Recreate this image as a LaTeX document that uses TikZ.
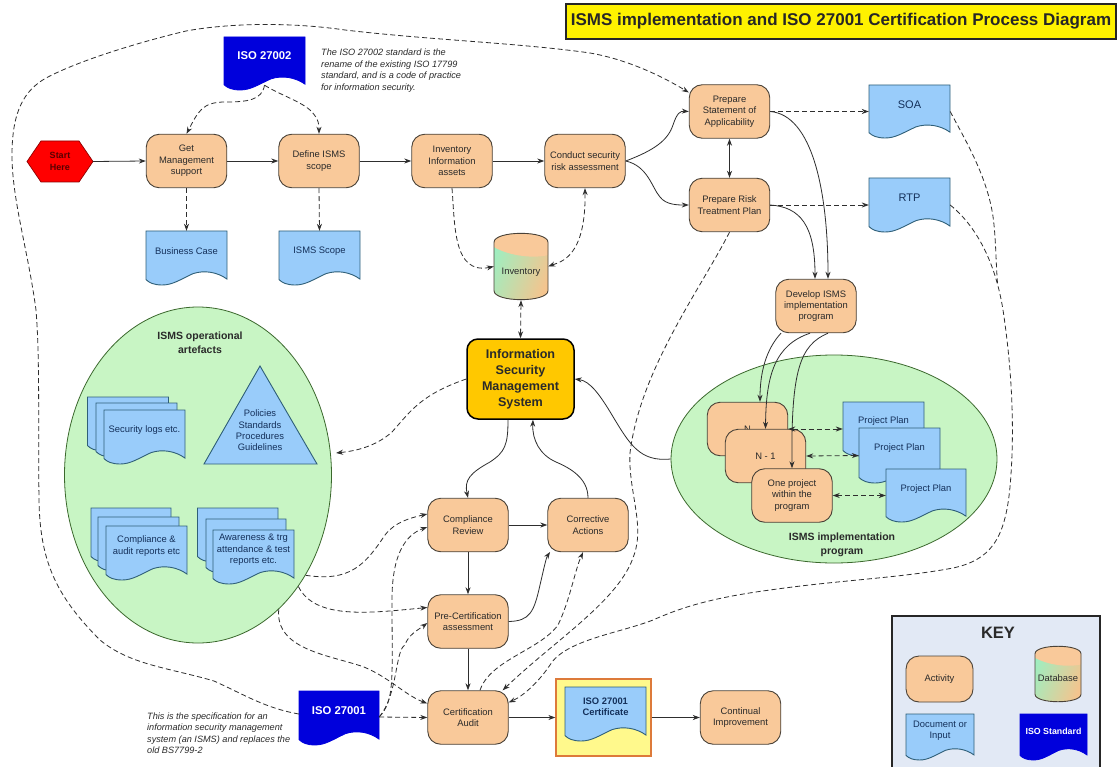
\documentclass[tikz,border=0pt]{standalone}
\usepackage{fontspec}
\setmainfont{Liberation Sans}
\usetikzlibrary{arrows.meta,shapes.geometric,calc}
\definecolor{actfill}{HTML}{F9C99A}
\definecolor{edgeb}{HTML}{4A4238}
\definecolor{docfill}{HTML}{99CCFA}
\definecolor{docedge}{HTML}{2F5F78}
\definecolor{stdblue}{HTML}{0000DC}
\definecolor{ellfill}{HTML}{C8F5C4}
\definecolor{txt}{HTML}{2A2A2A}
\definecolor{doctxt}{HTML}{14305A}
\definecolor{conn}{HTML}{2E2E2E}
\definecolor{keyfill}{HTML}{E2E9F5}
\definecolor{cylgreen}{HTML}{9FEEC0}
\definecolor{cylorange}{HTML}{F4C48E}
\definecolor{ismsfill}{HTML}{FFC800}
\definecolor{framecol}{HTML}{DD7A3A}
\tikzset{
  x=1pt,y=-1pt,
  body/.style={font=\fontsize{9.4}{11.4}\selectfont,align=center,text=txt,inner sep=0pt},
  act/.style={body,draw=edgeb,line width=.9pt,fill=actfill,rounded corners=13pt,minimum width=80.5pt,minimum height=53.5pt},
  docblue/.style={fill=docfill,draw=docedge,line width=.9pt},
  docstd/.style={fill=stdblue,draw=stdblue,line width=.8pt},
  doctext/.style={body,text=doctxt},
  stdtext/.style={body,text=white,font=\bfseries\fontsize{11.3}{13}\selectfont},
  note/.style={font=\itshape\fontsize{9.15}{11.4}\selectfont,align=left,text=txt,inner sep=0pt,anchor=north west},
  bighead/.style={font=\bfseries\fontsize{10.5}{14}\selectfont,align=center,text=txt,inner sep=0pt},
  flow/.style={draw=conn,line width=.8pt,-{Stealth[length=7pt,width=5pt]}},
  both/.style={flow,{Stealth[length=7pt,width=5pt]}-{Stealth[length=7pt,width=5pt]}},
  dashflow/.style={flow,dash pattern=on 5pt off 3pt},
  dashboth/.style={both,dash pattern=on 5pt off 3pt},
  dashline/.style={draw=conn,line width=.8pt,dash pattern=on 5pt off 3pt},
}
% wavy document outline in a unit square
\newcommand{\wavyoutline}{(0,0) -- (1,0) -- (1,.89) .. controls (.88,.76) and (.72,.72) .. (.58,.79) .. controls (.42,.9) and (.33,1) .. (.2,1) .. controls (.1,1) and (.04,.96) .. (0,.9) -- cycle}
\newcommand{\docback}[5]{\begin{scope}[shift={(#1,#2)},x=#3pt,y=-#4pt]\path[#5] \wavyoutline;\end{scope}}
% name, x, y, w, h, style, text style, text, text y offset
\newcommand{\docnode}[9]{%
  \docback{#2}{#3}{#4}{#5}{#6}
  \node[minimum width=#4pt,minimum height=#5pt,inner sep=0pt] (#1) at ({#2+#4/2},{#3+#5/2}) {};
  \node[#7] (#1-t) at ({#2+#4/2},{#3+#9}) {#8};}
% name, x, y, w, h, text, text y offset
\newcommand{\cyl}[7]{%
  \begin{scope}[shift={(#2,#3)},x=#4pt,y=-#5pt]
    \shade[left color=cylgreen,right color=cylorange,shading angle=70] (0,.14) .. controls (0,-.04) and (1,-.04) .. (1,.14) -- (1,.86) .. controls (1,1.04) and (0,1.04) .. (0,.86) -- cycle;
    \fill[actfill] (0,.14) .. controls (0,-.04) and (1,-.04) .. (1,.14) -- (1,.33) .. controls (.75,.38) and (.3,.35) .. (0,.21) -- cycle;
    \draw[edgeb,line width=.9pt] (0,.14) .. controls (0,-.04) and (1,-.04) .. (1,.14) -- (1,.86) .. controls (1,1.04) and (0,1.04) .. (0,.86) -- cycle;
  \end{scope}
  \node[minimum width=#4pt,minimum height=#5pt,inner sep=0pt] (#1) at ({#2+#4/2},{#3+#5/2}) {};
  \node[body] (#1-t) at ({#2+#4/2},{#3+#5/2+#7}) {#6};}
\begin{document}
\begin{tikzpicture}
\useasboundingbox (0,0) rectangle (1118,767);
\fill[white] (0,0) rectangle (1118,767);

% title
\node[draw=black!85,line width=1.6pt,fill=yellow,minimum width=550pt,minimum height=35pt,inner sep=0pt,font=\bfseries\fontsize{17}{19}\selectfont,text=black!85] (title) at (841,21.5) {ISMS implementation and ISO 27001 Certification Process Diagram};

% ellipses
\node[ellipse,draw=edgeb!80!green,line width=.8pt,fill=ellfill,minimum width=267pt,minimum height=336pt,inner sep=0pt] (ops) at (198,475) {};
\node[ellipse,draw=edgeb!80!green,line width=.8pt,fill=ellfill,minimum width=326pt,minimum height=208pt,inner sep=0pt] (impl) at (834,459) {};
\node[bighead] (opst) at (200,343) {ISMS operational\\artefacts};
\node[bighead] (implt) at (842,544.5) {ISMS implementation\\program};

% start
\path[fill=red,draw=red!55!black,line width=.7pt] (27,161.5) -- (41,141) -- (79,141) -- (93,161.5) -- (79,182) -- (41,182) -- cycle;
\node[body,font=\bfseries\fontsize{9}{11.4}\selectfont,text=red!35!black,minimum width=66pt,minimum height=41pt] (start) at (60,161.5) {Start\\Here};

% activities
\node[act] (get) at (186.5,161) {Get\\Management\\support};
\node[act] (define) at (319,161) {Define ISMS\\scope};
\node[act] (invinfo) at (452,161) {Inventory\\Information\\assets};
\node[act] (conduct) at (585,161) {Conduct security\\risk assessment};
\node[act] (soaact) at (729.5,111.5) {Prepare\\Statement of\\Applicability};
\node[act] (rtpact) at (729.5,205) {Prepare Risk\\Treatment Plan};
\node[act] (develop) at (816,306) {Develop ISMS\\implementation\\program};
\node[act] (review) at (468,525) {Compliance\\Review};
\node[act] (corrective) at (588,525) {Corrective\\Actions};
\node[act] (precert) at (468,621.5) {Pre-Certification\\assessment};
\node[act] (audit) at (468,717.5) {Certification\\Audit};
\node[act] (continual) at (740.5,717.5) {Continual\\Improvement};

% central
\node[draw=black,line width=1.5pt,fill=ismsfill,rounded corners=11pt,minimum width=107pt,minimum height=80pt,inner sep=0pt,font=\bfseries\fontsize{12.6}{16}\selectfont,align=center,text=txt] (isms) at (520.5,379) {Information\\Security\\Management\\System};

% documents
\docnode{iso2}{224}{37}{81}{53}{docstd}{stdtext}{ISO 27002}{19}
\docnode{bcase}{146}{231}{81}{54}{docblue}{doctext}{Business Case}{20}
\docnode{scope}{279}{231}{81}{54}{docblue}{doctext}{ISMS Scope}{20}
\docnode{soa}{869}{85}{81}{53}{docblue}{doctext,font=\fontsize{11}{13}\selectfont}{SOA}{20}
\docnode{rtp}{869}{178}{81}{54}{docblue}{doctext,font=\fontsize{11}{13}\selectfont}{RTP}{20}
\docnode{iso1}{299}{691}{80}{54}{docstd}{stdtext}{ISO 27001}{20}

% artefact stacks
\docback{87.5}{397}{81}{54}{docblue}
\docback{96}{403}{81}{54}{docblue}
\docnode{logs}{104}{410}{81}{54}{docblue}{doctext}{Security logs etc.}{20}
\docback{91}{508}{80}{54}{docblue}
\docback{98}{517}{81}{54}{docblue}
\docnode{audrep}{106}{526}{81}{54}{docblue}{doctext}{Compliance \&\\audit reports etc}{20}
\docback{197.5}{508}{80.5}{54}{docblue}
\docback{206}{519}{80}{54}{docblue}
\docnode{aware}{213}{530}{81}{54}{docblue}{doctext}{Awareness \& trg\\attendance \& test\\reports etc.}{20}
\path[docblue] (260,366) -- (317,464) -- (204,464) -- cycle;
\node[doctext] (policies) at (260,430.5) {Policies\\Standards\\Procedures\\Guidelines};

% inventory
\cyl{inv}{494}{233}{54}{67}{Inventory}{6}

% programme
\node[act] (nact) at (747.5,429) {N};
\node[act] (n1act) at (765.5,456) {N - 1};
\node[act] (oneact) at (792,495.5) {One project\\within the\\program};
\docnode{pp1}{843}{402}{81}{54}{docblue}{doctext}{Project Plan}{19}
\docnode{pp2}{859}{428}{81}{55}{docblue}{doctext}{Project Plan}{20}
\docnode{pp3}{886}{469}{80}{53}{docblue}{doctext}{Project Plan}{20}

% certificate
\node[draw=framecol,line width=1.3pt,fill=yellow!45,minimum width=95pt,minimum height=77pt,inner sep=0pt] (frame) at (603.5,717.5) {};
\docnode{certdoc}{565}{687}{81}{54}{docblue}{doctext,font=\bfseries\fontsize{9.4}{11.4}\selectfont}{ISO 27001\\Certificate}{20}

% notes
\node[note] (note2) at (321,49) {The ISO 27002 standard is the\\rename of the existing ISO 17799\\standard, and is a code of practice\\for information security.};
\node[note] (note1) at (147,712.5) {This is the specification for an\\information security management\\system (an ISMS) and replaces the\\old BS7799-2};

% key
\node[draw=black!85,line width=1.4pt,fill=keyfill,minimum width=208pt,minimum height=156pt,inner sep=0pt] (keybox) at (996,694) {};
\node[font=\bfseries\fontsize{16.5}{18}\selectfont,text=txt,inner sep=0pt] (keyt) at (998,633) {KEY};
\node[act,minimum width=67pt,minimum height=46pt] (keyact) at (939.5,679) {Activity};
\cyl{keydb}{1035}{646}{46}{56}{Database}{4}
\docnode{keydoc}{906}{714}{68}{46}{docblue}{doctext}{Document or\\Input}{17}
\docnode{keystd}{1020}{714}{67}{46}{docstd}{stdtext,font=\bfseries\fontsize{8.8}{11}\selectfont}{ISO Standard}{17}

% free ends
\coordinate (opsin) at (336,453);
\coordinate (merge) at (997.5,283);

% --- solid connectors
\draw[flow] (start.east) -- (get.west);
\draw[flow] (get.east) -- (define.west);
\draw[flow] (define.east) -- (invinfo.west);
\draw[flow] (invinfo.east) -- (conduct.west);
\draw[flow] (conduct.east) .. controls (655,150) and (668,140) .. (673,125) .. controls (677,113) and (680,111) .. (soaact.west);
\draw[flow] (conduct.east) .. controls (648,166) and (652,188) .. (660,197) .. controls (666,205) and (678,205) .. (rtpact.west);
\draw[both] (soaact.south) -- (rtpact.north);
\draw[flow] (soaact.east) .. controls (812,115) and (828,190) .. ($(develop.north)+(12,0)$);
\draw[flow] (rtpact.east) .. controls (800,207) and (815,225) .. ($(develop.north)+(-1,0)$);
\draw[flow] ($(develop.south)+(-35,0)$) .. controls (770,345) and (760,365) .. ($(nact.north)+(12.5,0)$);
\draw[flow] ($(develop.south)+(-6,0)$) .. controls (775,345) and (766,375) .. ($(n1act.north)+(0,0)$);
\draw[flow] ($(develop.south)+(12,0)$) .. controls (800,345) and (791,370) .. (oneact.north);
\draw[flow] ($(isms.south)+(-12.5,0)$) .. controls (508,445) and (505,452) .. (490,462) .. controls (470,473) and (464,480) .. (review.north);
\draw[flow] (corrective.north) .. controls (588,478) and (570,468) .. (556,462) .. controls (540,455) and (532,440) .. ($(isms.south)+(12.5,0)$);
\draw[flow] (impl.west) .. controls (640,462) and (630,445) .. (612,415) .. controls (600,395) and (590,381) .. (isms.east);
\draw[flow] (review.east) -- (corrective.west);
\draw[flow] (review.south) -- (precert.north);
\draw[flow] (precert.east) .. controls (530,621) and (534,612) .. (540,585) .. controls (544,568) and (546,558) .. (550,552);
\draw[flow] (precert.south) -- (audit.north);
\draw[flow] (audit.east) -- (frame.west);
\draw[flow] (frame.east) -- (continual.west);

% --- dashed connectors
\draw[dashflow] ($(iso2.south)+(0,-5)$) .. controls (262,100) and (248,102) .. (225,102) .. controls (202,102) and (198,112) .. ($(get.north)+(0,0)$);
\draw[dashflow] ($(iso2.south)+(0,-5)$) .. controls (280,95) and (303,102) .. (312,112) .. controls (319,120) and (319,125) .. (define.north);
\draw[dashflow] (get.south) -- (bcase.north);
\draw[dashflow] (define.south) -- (scope.north);
\draw[dashflow] (invinfo.south) .. controls (455,225) and (453,275) .. (inv.west);
\draw[dashboth] (inv.east) .. controls (560,262) and (586,258) .. (conduct.south);
\draw[dashboth] (inv.south) -- (isms.north);
\draw[dashflow] (soaact.east) -- (soa.west);
\draw[dashflow] (rtpact.east) -- (rtp.west);
\draw[dashflow] (isms.west) .. controls (420,395) and (410,412) .. (392,432) .. controls (375,447) and (355,451) .. (opsin);
\draw[dashflow] (ops.-43) .. controls (350,582) and (365,565) .. (385,535) .. controls (395,522) and (410,518) .. ($(review.west)+(0,-11)$);
\draw[dashflow] (ops.-48.5) .. controls (315,620) and (370,613) .. ($(precert.west)+(0,-14)$);
\draw[dashflow] (ops.-59) .. controls (275,650) and (330,655) .. (364,667) .. controls (390,678) and (405,695) .. ($(audit.west)+(0,-14)$);
\draw[dashflow] ($(iso1.east)+(0,-1)$) .. controls (395,700) and (392,680) .. (392,600) .. controls (392,555) and (405,535) .. ($(review.west)+(0,2)$);
\draw[dashflow] ($(iso1.east)+(0,-1)$) .. controls (398,695) and (395,650) .. (405,645) .. controls (408,635) and (418,630) .. ($(precert.west)+(0,1.5)$);
\draw[dashflow] ($(iso1.east)+(0,-1)$) -- (audit.west);
\draw[dashflow] ($(audit.north)+(12,0)$) .. controls (490,660) and (540,650) .. (558,625) .. controls (570,600) and (575,570) .. ($(corrective.south)+(-5,0)$);
\draw[dashflow] (rtpact.south) .. controls (700,290) and (640,370) .. (630,453) .. controls (628,490) and (645,525) .. (634,555) .. controls (620,600) and (555,640) .. ($(audit.north east)+(-6,0)$);
\draw[dashflow] (rtp.east) .. controls (975,225) and (995,260) .. (1003,310) .. controls (1012,370) and (1015,430) .. (1010,487) .. controls (1005,540) and (990,560) .. (953,568) .. controls (900,578) and (840,580) .. (770,590) .. controls (710,598) and (680,608) .. (653,620) .. controls (620,633) and (565,640) .. (550,665) .. controls (540,680) and (525,695) .. ($(audit.east)+(0,-15)$);
\draw[dashline] (soa.east) .. controls (965,140) and (990,180) .. (994,225) .. controls (996,245) and (996,265) .. (merge);
\draw[dashflow] ($(iso1.west)+(0,-4)$) .. controls (265,708) and (245,695) .. (214,681) .. controls (170,668) and (130,665) .. (100,640) .. controls (55,595) and (40,560) .. (39,500) .. controls (38,420) and (40,360) .. (36,310) .. controls (28,250) and (12,200) .. (12,155) .. controls (12,110) and (25,90) .. (46,78) .. controls (80,60) and (140,42) .. (186,31) .. controls (230,23) and (290,22) .. (345,30) .. controls (430,40) and (520,43) .. (590,53) .. controls (630,60) and (665,78) .. ($(soaact.west)+(0,-19)$);
\draw[dashboth] (nact.east) -- (pp1.west);
\draw[dashboth] (n1act.east) -- (pp2.west);
\draw[dashboth] (oneact.east) -- (pp3.west);
\end{tikzpicture}
\end{document}
